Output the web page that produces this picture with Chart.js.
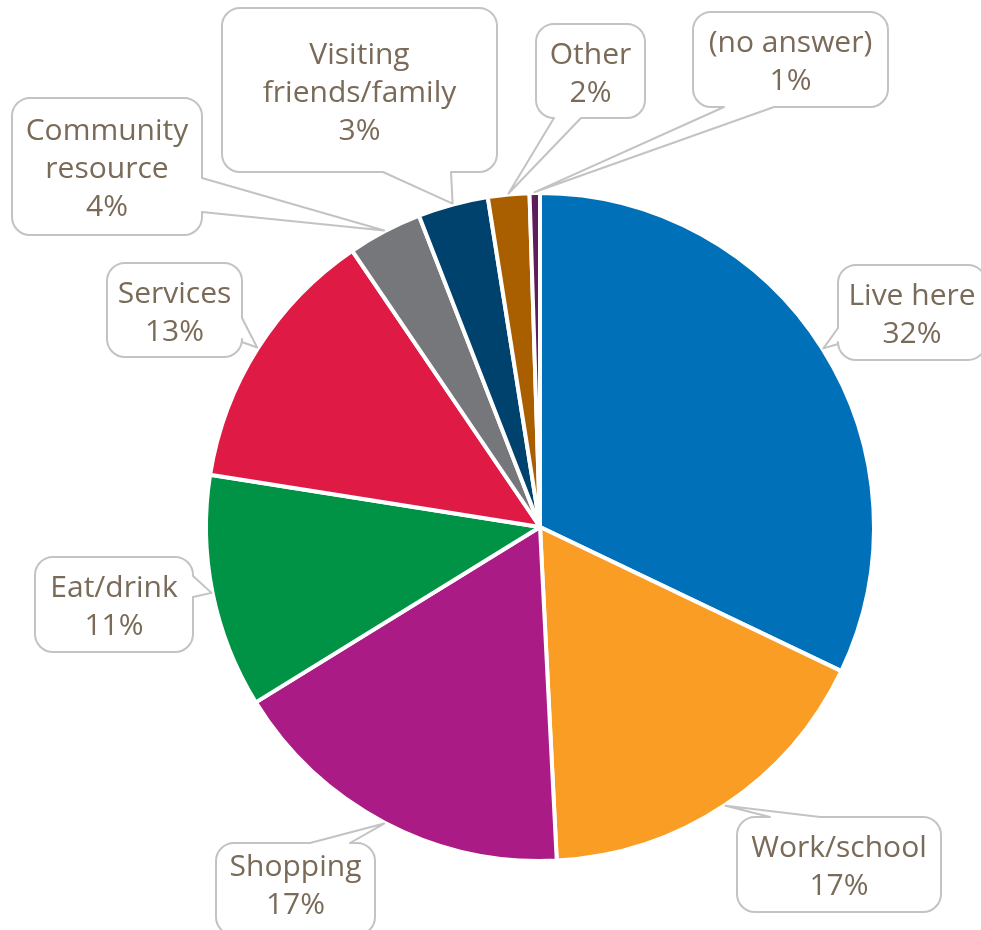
<!DOCTYPE html>
<html>
<head>
<meta charset="utf-8">
<script src="https://cdn.jsdelivr.net/npm/chart.js@4.4.0/dist/chart.umd.min.js"></script>
<style>
  html, body { margin: 0; padding: 0; background: #fff; }
  #wrap { width: 981px; height: 930px; }
</style>
</head>
<body>
<div id="wrap"><canvas id="pieChart" width="981" height="930"></canvas></div>
<script>
const categories = ['Live here', 'Work/school', 'Shopping', 'Eat/drink', 'Services', 'Community resource', 'Visiting friends/family', 'Other', '(no answer)'];
const shares = [32.1, 17.1, 17.0, 11.3, 13.0, 3.6, 3.4, 2.0, 0.5];
const shareLabels = ['32%', '17%', '17%', '11%', '13%', '4%', '3%', '2%', '1%'];
const labelLines = [['Live here'], ['Work/school'], ['Shopping'], ['Eat/drink'], ['Services'], ['Community', 'resource'], ['Visiting', 'friends/family'], ['Other'], ['(no answer)']];
const sliceColors = ['#0071B9', '#F99D25', '#AB1B86', '#009245', '#DE1A45', '#76777B', '#00426E', '#A95F00', '#5E1E5B'];

// callout boxes: where each box sits and which edge the tail leaves from
const callouts = [
    { x: 838, y: 265, w: 148, h: 95, side: 'left', a: 328, b: 344 },
    { x: 737, y: 817, w: 204, h: 95, side: 'top', a: 770, b: 820 },
    { x: 216, y: 843, w: 159, h: 92, side: 'top', a: 310, b: 350, dy: -6 },
    { x: 35, y: 557, w: 158, h: 95, side: 'right', a: 576, b: 597 },
    { x: 107, y: 263, w: 135, h: 94, side: 'right', a: 318, b: 342 },
    { x: 12, y: 98, w: 190, h: 137, side: 'right', a: 178, b: 212 },
    { x: 222, y: 8, w: 275, h: 164, side: 'bottom', a: 383, b: 451 },
    { x: 536, y: 24, w: 109, h: 94, side: 'bottom', a: 554, b: 581 },
    { x: 693, y: 12, w: 195, h: 95, side: 'bottom', a: 724, b: 774 }
];

function calloutPath(ctx, c, tip) {
    const r = 18;
    const x = c.x, y = c.y, x2 = c.x + c.w, y2 = c.y + c.h;
    ctx.beginPath();
    ctx.moveTo(x + r, y);
    if (c.side === 'top') { ctx.lineTo(c.a, y); ctx.lineTo(tip.x, tip.y); ctx.lineTo(c.b, y); }
    ctx.lineTo(x2 - r, y);
    ctx.arcTo(x2, y, x2, y + r, r);
    if (c.side === 'right') { ctx.lineTo(x2, c.a); ctx.lineTo(tip.x, tip.y); ctx.lineTo(x2, c.b); }
    ctx.lineTo(x2, y2 - r);
    ctx.arcTo(x2, y2, x2 - r, y2, r);
    if (c.side === 'bottom') { ctx.lineTo(c.b, y2); ctx.lineTo(tip.x, tip.y); ctx.lineTo(c.a, y2); }
    ctx.lineTo(x + r, y2);
    ctx.arcTo(x, y2, x, y2 - r, r);
    if (c.side === 'left') { ctx.lineTo(x, c.b); ctx.lineTo(tip.x, tip.y); ctx.lineTo(x, c.a); }
    ctx.lineTo(x, y + r);
    ctx.arcTo(x, y, x + r, y, r);
    ctx.closePath();
}

const calloutPlugin = {
    id: 'callouts',
    afterDraw(chart) {
        const ctx = chart.ctx;
        const meta = chart.getDatasetMeta(0);
        meta.data.forEach((arc, i) => {
            const c = callouts[i];
            const p = arc.getProps(['x', 'y', 'startAngle', 'endAngle', 'outerRadius'], true);
            const mid = (p.startAngle + p.endAngle) / 2;
            const tip = {
                x: p.x + Math.cos(mid) * (p.outerRadius + 1),
                y: p.y + Math.sin(mid) * (p.outerRadius + 1)
            };
            ctx.save();
            calloutPath(ctx, c, tip);
            ctx.fillStyle = '#ffffff';
            ctx.fill();
            ctx.lineWidth = 2;
            ctx.strokeStyle = '#C3C3C3';
            ctx.lineJoin = 'round';
            ctx.stroke();

            const lines = labelLines[i].concat([shareLabels[i]]);
            const lh = 38;
            const cx = c.x + c.w / 2;
            const cy = c.y + c.h / 2 + 3 + (c.dy || 0);
            ctx.fillStyle = '#7A6A58';
            ctx.font = '30px "Open Sans", "Noto Sans", sans-serif';
            ctx.textAlign = 'center';
            ctx.textBaseline = 'middle';
            lines.forEach((t, k) => {
                ctx.fillText(t, cx, cy + (k - (lines.length - 1) / 2) * lh);
            });
            ctx.restore();
        });
    }
};

new Chart(document.getElementById('pieChart'), {
    type: 'pie',
    data: {
        labels: categories,
        datasets: [{
            data: shares,
            backgroundColor: sliceColors,
            borderColor: '#ffffff',
            borderWidth: 4
        }]
    },
    options: {
        responsive: false,
        animation: false,
        radius: 334,
        layout: { padding: { left: 109, right: 10, top: 134, bottom: 10 } },
        plugins: {
            legend: { display: false },
            tooltip: { enabled: false }
        }
    },
    plugins: [calloutPlugin]
});
</script>
</body>
</html>
